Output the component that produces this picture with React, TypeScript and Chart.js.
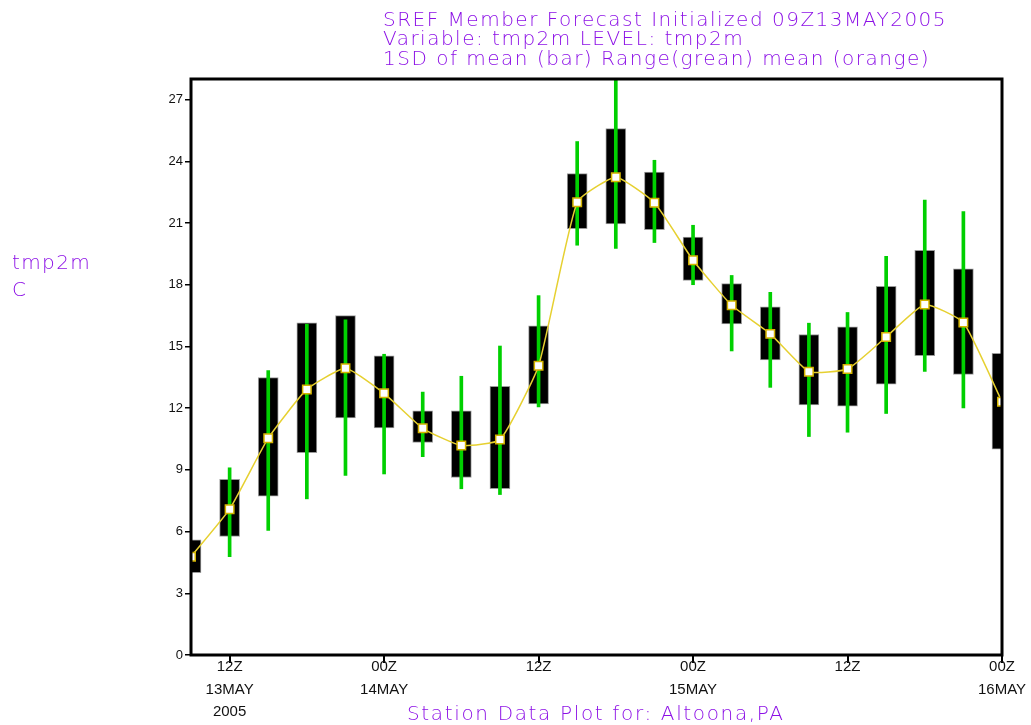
import React, { useEffect, useRef } from "react";
import { Chart, registerables } from "chart.js";

Chart.register(...registerables);

// 3-hourly forecast steps: 09Z 13MAY2005 .. 00Z 16MAY2005
const stepLabels = [
  "09Z13MAY", "12Z13MAY", "15Z13MAY", "18Z13MAY", "21Z13MAY",
  "00Z14MAY", "03Z14MAY", "06Z14MAY", "09Z14MAY", "12Z14MAY", "15Z14MAY", "18Z14MAY", "21Z14MAY",
  "00Z15MAY", "03Z15MAY", "06Z15MAY", "09Z15MAY", "12Z15MAY", "15Z15MAY", "18Z15MAY", "21Z15MAY",
  "00Z16MAY",
];

const meanValues = [4.78, 7.09, 10.54, 12.91, 13.94, 12.72, 11.02, 10.18, 10.47, 14.06, 22.01, 23.22, 21.98, 19.19, 17.0, 15.61, 13.77, 13.9, 15.46, 17.04, 16.16, 12.31];
const sdLow = [4.0, 5.76, 7.72, 9.84, 11.53, 11.04, 10.33, 8.63, 8.08, 12.2, 20.73, 20.96, 20.67, 18.21, 16.1, 14.34, 12.16, 12.1, 13.16, 14.55, 13.64, 10.0];
const sdHigh = [5.6, 8.54, 13.48, 16.15, 16.5, 14.54, 11.87, 11.87, 13.06, 16.0, 23.4, 25.59, 23.48, 20.31, 18.05, 16.93, 15.58, 15.95, 17.92, 19.67, 18.77, 14.67];
const rangeMin = [null, 4.78, 6.05, 7.59, 8.73, 8.8, 9.64, 8.08, 7.8, 12.06, 19.92, 19.76, 20.05, 18.0, 14.78, 13.01, 10.62, 10.83, 11.74, 13.79, 12.01, null];
const rangeMax = [null, 9.1, 13.82, 16.08, 16.29, 14.62, 12.78, 13.55, 15.02, 17.47, 24.96, 28.6, 24.05, 20.89, 18.45, 17.63, 16.13, 16.65, 19.38, 22.11, 21.56, null];

const xTickIndex = [1, 5, 9, 13, 17, 21];
const xTickLabels = [
  ["12Z", "13MAY", "2005"],
  ["00Z", "14MAY"],
  ["12Z"],
  ["00Z", "15MAY"],
  ["12Z"],
  ["00Z", "16MAY"],
];
const yTicks = [0, 3, 6, 9, 12, 15, 18, 21, 24, 27];

const titleLines = [
  "SREF Member Forecast Initialized 09Z13MAY2005",
  "Variable: tmp2m LEVEL: tmp2m",
  "1SD of mean (bar) Range(grean) mean (orange)",
];
const yLabelLines = ["tmp2m", "C"];
const footerText = "Station Data Plot for: Altoona,PA";

const PURPLE = "#8c10e6";

const framePlugin = {
  id: "frame",
  afterDraw(chart: any) {
    const { ctx, chartArea } = chart;
    ctx.save();
    ctx.strokeStyle = "#000";
    ctx.lineWidth = 3;
    ctx.strokeRect(chartArea.left, chartArea.top, chartArea.right - chartArea.left, chartArea.bottom - chartArea.top);
    ctx.restore();
  },
};

export default function App() {
  const ref = useRef<HTMLCanvasElement | null>(null);

  useEffect(() => {
    if (!ref.current) return;
    const chart = new Chart(ref.current, {
      type: "bar",
      data: {
        labels: stepLabels,
        datasets: [
          {
            type: "line",
            label: "mean",
            data: meanValues.map((v, i) => ({ x: i, y: v })),
            borderColor: "#e6d030",
            borderWidth: 1.5,
            tension: 0.15,
            pointStyle: "rect",
            pointRadius: 6,
            pointBorderWidth: 1.5,
            pointBackgroundColor: "#ffffff",
            pointBorderColor: "#d4b400",
            order: 0,
          } as any,
          {
            type: "bar",
            label: "range",
            data: rangeMin.map((v, i) => ({ x: i, y: v === null ? null : [v, rangeMax[i]] })),
            backgroundColor: "#00d000",
            barThickness: 3,
            grouped: false,
            order: 1,
          } as any,
          {
            type: "bar",
            label: "1SD",
            data: sdLow.map((v, i) => ({ x: i, y: [v, sdHigh[i]] })),
            backgroundColor: "#000000",
            borderColor: "#9a9a9a",
            borderWidth: 1,
            borderSkipped: false,
            barThickness: 20,
            grouped: false,
            order: 2,
          } as any,
        ],
      },
      options: {
        animation: false,
        responsive: false,
        layout: { padding: { left: 151, right: 29, top: 79, bottom: 0 } },
        plugins: { legend: { display: false }, tooltip: { enabled: false }, title: { display: false } },
        scales: {
          x: {
            type: "linear",
            min: 0,
            max: 21,
            offset: false,
            border: { display: false },
            grid: { display: true, offset: false, drawOnChartArea: false, drawTicks: true, tickLength: 8, color: "#000", lineWidth: 2 },
            afterBuildTicks: (scale: any) => {
              scale.ticks = xTickIndex.map((v) => ({ value: v }));
            },
            afterFit: (scale: any) => {
              scale.height = 70;
            },
            ticks: {
              autoSkip: false,
              maxRotation: 0,
              padding: -7,
              color: "#111",
              font: { family: "Liberation Sans", size: 15, lineHeight: 1.5 },
              callback: (value: any) => {
                const k = xTickIndex.indexOf(Number(value));
                return k >= 0 ? xTickLabels[k] : "";
              },
            },
          },
          y: {
            type: "linear",
            min: 0,
            max: 28.0,
            border: { display: false },
            grid: { display: true, drawOnChartArea: false, drawTicks: true, tickLength: 6, color: "#000", lineWidth: 1.5 },
            afterBuildTicks: (scale: any) => {
              scale.ticks = yTicks.map((v) => ({ value: v }));
            },
            afterFit: (scale: any) => {
              scale.width = 40;
            },
            ticks: {
              padding: 2,
              color: "#111",
              font: { family: "Liberation Sans", size: 13 },
              callback: (value: any) => String(value),
            },
          },
        },
      },
      plugins: [framePlugin],
    });
    return () => chart.destroy();
  }, []);

  const textStyle: React.CSSProperties = {
    position: "absolute",
    color: PURPLE,
    fontFamily: "'DejaVu Sans', sans-serif",
    fontWeight: 200,
    whiteSpace: "pre",
  };

  return (
    <div style={{ position: "absolute", left: 0, top: 0, width: 1031, height: 725, background: "#fff", overflow: "hidden" }}>
      <canvas ref={ref} width={1031} height={725} style={{ position: "absolute", left: 0, top: 0, width: 1031, height: 725 }} />
      <div style={{ ...textStyle, left: 383, top: 10, fontSize: 20, lineHeight: "19.3px", letterSpacing: "1.5px" }}>
        {titleLines.map((t, i) => (
          <div key={i}>{t}</div>
        ))}
      </div>
      <div style={{ ...textStyle, left: 12, top: 249, fontSize: 20, lineHeight: "27px", letterSpacing: "1.4px" }}>
        {yLabelLines.map((t, i) => (
          <div key={i}>{t}</div>
        ))}
      </div>
      <div style={{ ...textStyle, left: 407, top: 702, fontSize: 20, lineHeight: "22px", letterSpacing: "1.65px" }}>{footerText}</div>
    </div>
  );
}
